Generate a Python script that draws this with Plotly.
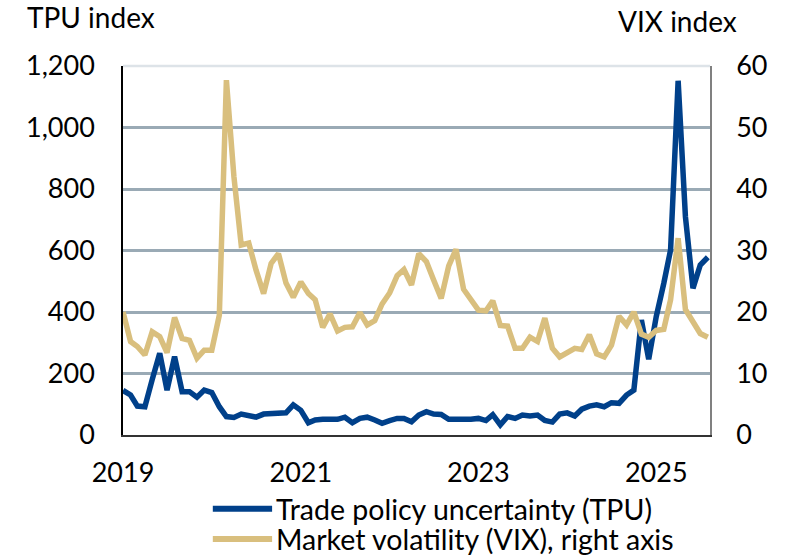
import pandas as pd
import plotly.graph_objects as go

# monthly, Jan 2019 - Aug 2025
months = pd.date_range("2019-01-01", periods=80, freq="MS")

tpu = [145, 130, 94, 92, 180, 266, 146, 255, 141, 141, 123, 146,
       138, 92, 60, 57, 68, 62, 58, 68, 70, 72, 72, 98,
       80, 40, 49, 51, 51, 51, 58, 40, 54, 58, 49, 38,
       47, 54, 54, 43, 65, 76, 68, 67, 51, 49, 51, 51,
       54, 47, 66, 33, 60, 54, 65, 62, 65, 47, 42, 68,
       72, 62, 84, 94, 98, 92, 105, 103, 130, 146, 374, 246,
       385, 493, 602, 1152, 710, 477, 553, 578]

vix = [20.0, 15.2, 14.4, 13.0, 16.8, 16.0, 13.4, 19.1, 15.7, 15.4, 12.5, 13.8,
       13.8, 19.5, 57.7, 42.0, 30.9, 31.2, 26.8, 23.0, 27.9, 29.5, 24.7, 22.4,
       24.9, 23.0, 22.0, 17.5, 19.7, 16.9, 17.5, 17.6, 19.9, 17.9, 18.6, 21.3,
       23.1, 25.9, 26.9, 24.4, 29.5, 28.2, 25.2, 22.2, 27.5, 30.2, 23.7, 22.0,
       20.3, 20.2, 21.8, 17.8, 17.7, 14.1, 14.1, 15.9, 15.2, 19.0, 14.1, 12.7,
       13.4, 14.1, 13.9, 16.3, 13.2, 12.7, 14.6, 19.3, 17.9, 20.0, 16.4, 15.9,
       17.0, 17.2, 22.0, 32.0, 20.4, 18.4, 16.5, 15.9]

year_ticks = ["2019-01-01", "2021-01-01", "2023-01-01", "2025-01-01"]
year_labels = ["2019", "2021", "2023", "2025"]

blue = "#00408A"
gold = "#D9BF7E"
grid = "#9AAAB5"
tick_font = dict(family="Lato", size=27, color="#000000")
title_font = dict(family="Lato", size=28, color="#000000")
legend_font = dict(family="Lato", size=28.5, color="#000000")

fig = go.Figure()
fig.add_trace(go.Scatter(x=months, y=vix, yaxis="y2", mode="lines",
                         line=dict(color=gold, width=5.5),
                         name="Market volatility (VIX), right axis"))
fig.add_trace(go.Scatter(x=months, y=tpu, mode="lines",
                         line=dict(color=blue, width=5.5),
                         name="Trade policy uncertainty (TPU)"))

fig.update_layout(
    width=790, height=556,
    margin=dict(l=123, r=80, t=66, b=121, autoexpand=False),
    paper_bgcolor="white", plot_bgcolor="white",
    font=tick_font, showlegend=False,
    xaxis=dict(type="date", range=["2019-01-01", "2025-08-10"],
               tickvals=year_ticks, ticktext=year_labels, tickfont=tick_font,
               showgrid=False, showline=True, linecolor="#333333", linewidth=1.5,
               ticks="", ticklabelstandoff=13, zeroline=False, automargin=False),
    yaxis=dict(range=[0, 1200], tickvals=[0, 200, 400, 600, 800, 1000, 1200],
               tickformat=",", tickfont=tick_font,
               showgrid=True, gridcolor=grid, gridwidth=2.5,
               showline=True, linecolor="black", linewidth=1.5,
               ticks="", ticklabelstandoff=21, zeroline=False, automargin=False),
    yaxis2=dict(range=[0, 60], tickvals=[0, 10, 20, 30, 40, 50, 60],
                overlaying="y", side="right", showgrid=False, tickfont=tick_font,
                showline=True, linecolor="#808080", linewidth=1.5,
                ticks="", ticklabelstandoff=19, zeroline=False, automargin=False),
)

# lighter line along the top edge
fig.add_shape(type="line", xref="paper", yref="paper", x0=0, x1=1, y0=1, y1=1,
              line=dict(color="#DDE3E8", width=2.5), layer="above")

fig.add_annotation(text="TPU index", xref="paper", yref="paper",
                   x=-0.167, y=1.132, xanchor="left", yanchor="middle",
                   showarrow=False, font=title_font)
fig.add_annotation(text="VIX index", xref="paper", yref="paper",
                   x=1.05, y=1.122, xanchor="right", yanchor="middle",
                   showarrow=False, font=title_font)

# legend drawn by hand to match the long line samples
legend_items = [("Trade policy uncertainty (TPU)", blue, -0.2),
                ("Market volatility (VIX), right axis", gold, -0.282)]
for label, color, ypos in legend_items:
    fig.add_shape(type="line", xref="paper", yref="paper",
                  x0=0.153, x1=0.254, y0=ypos, y1=ypos,
                  line=dict(color=color, width=6))
    fig.add_annotation(text=label, xref="paper", yref="paper",
                       x=0.258, y=ypos, xanchor="left", yanchor="middle",
                       showarrow=False, font=legend_font)

# drop the page's default body margin so the figure sits at the window's corner
fig.write_html("out.html", config={"displayModeBar": False},
               post_script="document.body.style.margin='0';")
